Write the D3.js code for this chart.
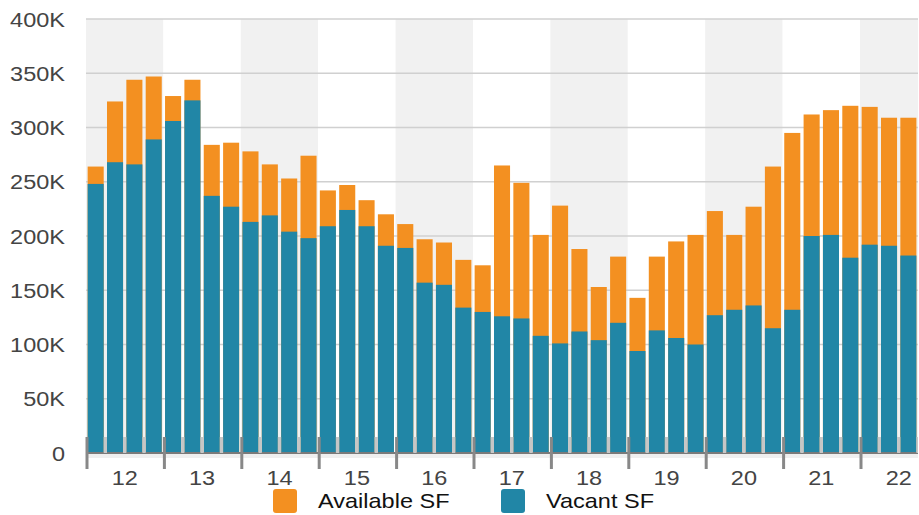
<!DOCTYPE html>
<html>
<head>
<meta charset="utf-8">
<script src="https://cdn.jsdelivr.net/npm/d3@7"></script>
<style>
  body { margin: 0; background: #fff; }
  svg { display: block; font-family: "Liberation Sans", Arial, sans-serif; }
</style>
</head>
<body>
<svg width="919" height="515"></svg>
<script>
// Years shown on the axis (2022 only has three quarters of data)
const years = ["12", "13", "14", "15", "16", "17", "18", "19", "20", "21", "22"];
const quarters = years.flatMap((yr) => ["Q1", "Q2", "Q3", "Q4"].map((q) => yr + q));

// Available SF (total bar height) and Vacant SF, per quarter
const availableSF = [
  264, 324, 344, 347, 329, 344, 284, 286,
  278, 266, 253, 274, 242, 247, 233, 220,
  211, 197, 194, 178, 173, 265, 249, 201,
  228, 188, 153, 181, 143, 181, 195, 201,
  223, 201, 227, 264, 295, 312, 316, 320,
  319, 309, 309
].map((d) => d * 1000);
const vacantSF = [
  248, 268, 266, 289, 306, 325, 237, 227,
  213, 219, 204, 198, 209, 224, 209, 191,
  189, 157, 155, 134, 130, 126, 124, 108,
  101, 112, 104, 120, 94, 113, 106, 100,
  127, 132, 136, 115, 132, 200, 201, 180,
  192, 191, 182
].map((d) => d * 1000);

const yTicks = [0, 50000, 100000, 150000, 200000, 250000, 300000, 350000, 400000];
const seriesNames = ["Available SF", "Vacant SF"];
const colors = ["#f39021", "#2186a6"];

const svg = d3.select("svg");
const plotLeft = 86, plotRight = 918, plotTop = 19, plotBottom = 453;
const fullRight = plotLeft + 44 * 19.35;
const stretch = "scale(1.12,1)"; // text in the original is drawn a bit wide

const x = d3.scaleBand().domain(quarters).range([plotLeft, fullRight])
  .paddingInner(0.17).paddingOuter(0.085);
const xYear = d3.scaleBand().domain(years).range([plotLeft, fullRight]);
const y = d3.scaleLinear().domain([0, 400000]).range([plotBottom, plotTop]);

svg.append("clipPath").attr("id", "plot")
  .append("rect").attr("x", plotLeft).attr("y", 0)
  .attr("width", plotRight - plotLeft).attr("height", 515);

const plot = svg.append("g").attr("clip-path", "url(#plot)");

// alternating year bands
plot.selectAll(".band")
  .data(years)
  .enter()
  .append("rect")
  .attr("x", (d) => xYear(d))
  .attr("y", plotTop)
  .attr("width", xYear.bandwidth())
  .attr("height", plotBottom - plotTop)
  .attr("fill", (d, i) => (i % 2 === 0 ? "#f1f1f1" : "#fff"));

// gridlines
plot.selectAll(".grid")
  .data(yTicks.slice(1))
  .enter()
  .append("line")
  .attr("x1", plotLeft)
  .attr("x2", plotRight)
  .attr("y1", (d) => y(d))
  .attr("y2", (d) => y(d))
  .attr("stroke", "#d0d0d0")
  .attr("stroke-width", 1.5);

// bars: available behind, vacant in front
const data = availableSF.map((a, i) => ({ q: quarters[i], available: a, vacant: vacantSF[i] }));

plot.selectAll(".avail")
  .data(data)
  .enter()
  .append("rect")
  .attr("x", (d) => x(d.q))
  .attr("width", x.bandwidth())
  .attr("y", (d) => y(d.available))
  .attr("height", (d) => plotBottom - y(d.available))
  .attr("fill", colors[0]);

plot.selectAll(".vac")
  .data(data)
  .enter()
  .append("rect")
  .attr("x", (d) => x(d.q))
  .attr("width", x.bandwidth())
  .attr("y", (d) => y(d.vacant))
  .attr("height", (d) => plotBottom - y(d.vacant))
  .attr("fill", colors[1]);

// axis base
plot.append("rect")
  .attr("x", plotLeft).attr("y", plotBottom + 1)
  .attr("width", plotRight - plotLeft).attr("height", 4)
  .attr("fill", "#efefef");
plot.append("line")
  .attr("x1", plotLeft).attr("x2", plotRight)
  .attr("y1", plotBottom).attr("y2", plotBottom)
  .attr("stroke", "#7a7a7a").attr("stroke-width", 2);

// minor ticks at quarter boundaries
const step = x.step();
const minor = quarters.filter((q, i) => i % 4 !== 0);
plot.selectAll(".minor")
  .data(minor)
  .enter()
  .append("line")
  .attr("x1", (d) => x(d) - step * 0.085)
  .attr("x2", (d) => x(d) - step * 0.085)
  .attr("y1", plotBottom - 16)
  .attr("y2", plotBottom)
  .attr("stroke", "#c6c6c6")
  .attr("stroke-width", 3.3);

// major ticks at year boundaries
svg.selectAll(".major")
  .data(years.filter((d) => xYear(d) < plotRight))
  .enter()
  .append("line")
  .attr("x1", (d) => xYear(d) + 1)
  .attr("x2", (d) => xYear(d) + 1)
  .attr("y1", plotBottom - 16)
  .attr("y2", plotBottom + 16)
  .attr("stroke", "#888")
  .attr("stroke-width", 3);

// year labels
svg.selectAll(".xlab")
  .data(years)
  .enter()
  .append("g")
  .attr("transform", (d) => "translate(" + (xYear(d) + xYear.bandwidth() / 2) + ",485)" + stretch)
  .append("text")
  .attr("text-anchor", "middle")
  .attr("font-size", 21)
  .attr("fill", "#444")
  .text((d) => d);

// y labels
svg.selectAll(".ylab")
  .data(yTicks)
  .enter()
  .append("g")
  .attr("transform", (d) => "translate(65," + y(d) + ")" + stretch)
  .append("text")
  .attr("dy", "0.36em")
  .attr("text-anchor", "end")
  .attr("font-size", 21)
  .attr("fill", "#444")
  .text((d) => (d === 0 ? "0" : d / 1000 + "K"));

// legend
const legendX = [273, 501];
const legend = svg.selectAll(".legend")
  .data(seriesNames)
  .enter()
  .append("g")
  .attr("transform", (d, i) => "translate(" + legendX[i] + ",489)");
legend.append("rect")
  .attr("width", 24).attr("height", 24).attr("rx", 3)
  .attr("fill", (d, i) => colors[i]);
legend.append("g")
  .attr("transform", "translate(45,19)" + stretch)
  .append("text")
  .attr("font-size", 21)
  .attr("fill", "#111")
  .text((d) => d);
</script>
</body>
</html>
